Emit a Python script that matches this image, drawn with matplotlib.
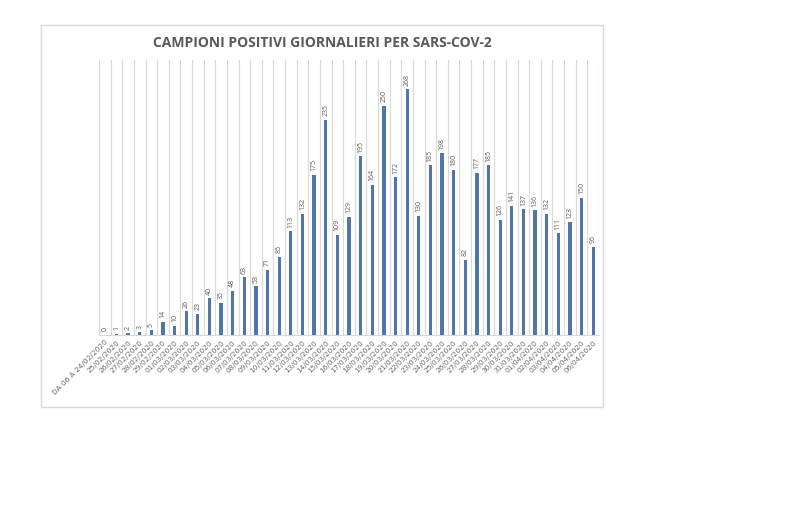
import numpy as np
import matplotlib
matplotlib.use("Agg")
import matplotlib.pyplot as plt
from matplotlib.patches import Rectangle

# Dati: campioni positivi giornalieri
date_labels = ["DA 06 A 24/02/2020", "25/02/2020", "26/02/2020", "27/02/2020", "28/02/2020",
               "29/02/2020"] + [f"{d:02d}/03/2020" for d in range(1, 32)] + \
              [f"{d:02d}/04/2020" for d in range(1, 7)]
positivi = [0, 1, 2, 3, 5, 14, 10, 26, 23, 40, 35, 48, 63, 53, 71, 85, 113, 132, 175, 235,
            109, 129, 195, 164, 250, 172, 268, 130, 185, 198, 180, 82, 177, 185, 126, 141,
            137, 136, 132, 111, 123, 150, 96]

plt.rcParams['font.family'] = ['Open Sans', 'DejaVu Sans']

fig = plt.figure(figsize=(7.93, 5.29), dpi=100)

# Riquadro del grafico (stile Excel)
fig.patches.append(Rectangle((41 / 793, 1 - 407 / 529), 562 / 793, 382 / 529,
                             transform=fig.transFigure, facecolor='white',
                             edgecolor='#d9d9d9', linewidth=1, zorder=-5))

ax = fig.add_axes([99 / 793, 1 - 335 / 529, 500 / 793, 275 / 529])
ax.set_zorder(2)
ax.patch.set_alpha(0)
x = np.arange(len(positivi))
bars = ax.bar(x, positivi, width=0.28, color='#4f76a8', zorder=3)

# Griglia verticale tra le categorie
for b in np.arange(-0.5, len(positivi), 1):
    ax.axvline(b, color='#d9d9d9', linewidth=0.8, zorder=1)

for xi, v in zip(x, positivi):
    ax.text(xi, v + 4, str(v), rotation=90, ha='center', va='bottom',
            fontsize=5, color='#595959')

ax.set_xlim(-0.5, len(positivi) - 0.5)
ax.set_ylim(0, 300)
ax.set_yticks([])
ax.set_xticks(x)
ax.set_xticklabels(date_labels, rotation=45, ha='right', rotation_mode='anchor',
                   fontsize=5.3, color='#6a6a6a', family='DejaVu Sans')
ax.tick_params(axis='x', length=0, pad=3)
for s in ['top', 'right', 'left']:
    ax.spines[s].set_visible(False)
ax.spines['bottom'].set_color('#d9d9d9')

fig.text(322 / 793, 1 - 43 / 529, "CAMPIONI POSITIVI GIORNALIERI PER SARS-COV-2",
         ha='center', va='center', fontsize=10, fontweight='bold', color='#595959')

fig.savefig("out.png", dpi=100)
